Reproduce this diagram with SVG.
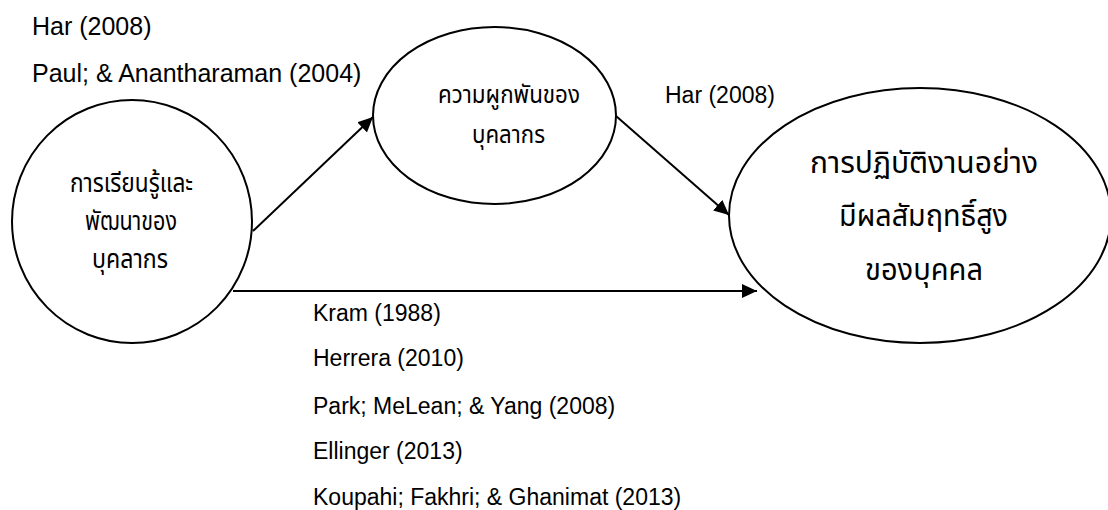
<svg xmlns="http://www.w3.org/2000/svg" width="1108" height="510" viewBox="0 0 1108 510">
  <style>
    .node { fill: #ffffff; stroke: #000000; stroke-width: 2; }
    .edge { fill: none; stroke: #000000; stroke-width: 2; }
    .ref { font-family: "Liberation Sans", Arial, sans-serif; font-size: 23px; fill: #000000; }
    .ref-top { font-size: 25px; }
    .th { font-family: "Noto Sans Thai", "Noto Sans", "DejaVu Sans", sans-serif; fill: #000000; text-anchor: middle; }
  </style>
  <defs>
    <marker id="arrow" markerUnits="userSpaceOnUse" markerWidth="16" markerHeight="16" refX="15" refY="7" orient="auto">
      <path d="M0,0 L15,7 L0,14 Z" fill="#000000"/>
    </marker>
  </defs>

  <rect width="1108" height="510" fill="#ffffff"/>

  <!-- connectors -->
  <g id="connectors">
    <line class="edge" x1="253" y1="231" x2="373" y2="117" marker-end="url(#arrow)"/>
    <line class="edge" x1="616" y1="116" x2="729" y2="215" marker-end="url(#arrow)"/>
    <line class="edge" x1="233" y1="291" x2="757" y2="291" marker-end="url(#arrow)"/>
  </g>

  <!-- learning and development -->
  <g id="node-learning">
    <ellipse class="node" cx="132" cy="221.5" rx="120" ry="121.5"/>
    <text class="th" font-size="27" x="131.5" y="192" textLength="123" lengthAdjust="spacingAndGlyphs">การเรียนรู้และ</text>
    <text class="th" font-size="27" x="131" y="230" textLength="92" lengthAdjust="spacingAndGlyphs">พัฒนาของ</text>
    <text class="th" font-size="27" x="130" y="268" textLength="76" lengthAdjust="spacingAndGlyphs">บุคลากร</text>
  </g>

  <!-- engagement -->
  <g id="node-engagement">
    <ellipse class="node" cx="494.5" cy="115.5" rx="121.5" ry="88.5"/>
    <text class="th" font-size="24" x="509" y="103" textLength="142" lengthAdjust="spacingAndGlyphs">ความผูกพันของ</text>
    <text class="th" font-size="24" x="508.5" y="143" textLength="73" lengthAdjust="spacingAndGlyphs">บุคลากร</text>
  </g>

  <!-- high performance -->
  <g id="node-performance">
    <ellipse class="node" cx="920" cy="215.5" rx="191" ry="127.5"/>
    <text class="th" font-size="30" x="924" y="173" textLength="228" lengthAdjust="spacingAndGlyphs">การปฏิบัติงานอย่าง</text>
    <text class="th" font-size="30" x="923.5" y="226" textLength="169" lengthAdjust="spacingAndGlyphs">มีผลสัมฤทธิ์สูง</text>
    <text class="th" font-size="30" x="924" y="280" textLength="118" lengthAdjust="spacingAndGlyphs">ของบุคคล</text>
  </g>

  <!-- citations -->
  <g id="labels">
    <text class="ref ref-top" x="32" y="35">Har (2008)</text>
    <text class="ref ref-top" x="32" y="82">Paul; &amp; Anantharaman (2004)</text>
    <text class="ref" x="665" y="103">Har (2008)</text>
    <text class="ref" x="313" y="321">Kram (1988)</text>
    <text class="ref" x="313" y="366">Herrera (2010)</text>
    <text class="ref" x="313" y="414">Park; MeLean; &amp; Yang (2008)</text>
    <text class="ref" x="313" y="459">Ellinger (2013)</text>
    <text class="ref" x="313" y="505">Koupahi; Fakhri; &amp; Ghanimat (2013)</text>
  </g>
</svg>
